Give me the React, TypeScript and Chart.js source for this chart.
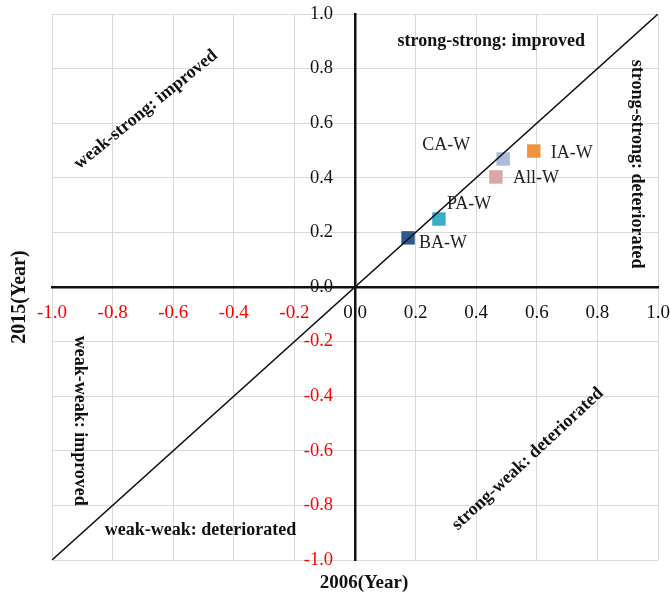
import React, { useEffect, useRef } from "react";
import { Chart, registerables } from "chart.js";

Chart.register(...registerables);

const pointNames = ["BA-W", "PA-W", "CA-W", "All-W", "IA-W"];
const xValues2006 = [0.175, 0.277, 0.489, 0.465, 0.59];
const yValues2015 = [0.18, 0.249, 0.469, 0.403, 0.498];
const pointColors = ["#2E5A94", "#3AAEC6", "#A9BCDD", "#D9A7A8", "#F0923F"];
// label placement relative to point (pixel offsets, text align)
const labelDx = [11, 8, -33, 17, 17];
const labelDy = [5, -15, -14, 1, 2];
const labelAlign: CanvasTextAlign[] = ["left", "left", "right", "left", "left"];

const diagonalX = [-1, 1];

const quadrantTexts = [
  "strong-strong: improved",
  "strong-strong: deteriorated",
  "weak-strong: improved",
  "weak-weak: improved",
  "weak-weak: deteriorated",
  "strong-weak: deteriorated",
];
const quadrantX = [0.45, 0.93, -0.69, -0.91, -0.51, 0.57];
const quadrantY = [0.9, 0.45, 0.65, -0.49, -0.89, -0.63];
const quadrantAngle = [0, 90, -39, 90, 0, -43];

const xTitle = "2006(Year)";
const yTitle = "2015(Year)";

const SERIF = "'Liberation Serif', 'Times New Roman', serif";
const tickColorOf = (v: number) => (v < 0 ? "#FF0000" : "#111");
const fmt = (v: number) => Number(v).toFixed(1);

const annotationPlugin = {
  id: "annotations",
  afterDatasetsDraw(chart: any) {
    const { ctx, scales, chartArea } = chart;
    const xs = scales.x;
    const ys = scales.y;
    ctx.save();
    // y tick labels (left of the vertical zero axis)
    ctx.font = `18.5px ${SERIF}`;
    ctx.textAlign = "right";
    ctx.textBaseline = "middle";
    const axisX = xs.getPixelForValue(0);
    ys.ticks.forEach((t: any) => {
      ctx.fillStyle = tickColorOf(t.value);
      ctx.fillText(fmt(t.value), axisX - 22, ys.getPixelForValue(t.value));
    });
    // quadrant texts
    ctx.fillStyle = "#111";
    ctx.font = `bold 18px ${SERIF}`;
    ctx.textAlign = "center";
    quadrantTexts.forEach((t, i) => {
      const px = xs.getPixelForValue(quadrantX[i]);
      const py = ys.getPixelForValue(quadrantY[i]);
      ctx.save();
      ctx.translate(px, py);
      ctx.rotate((quadrantAngle[i] * Math.PI) / 180);
      ctx.fillText(t, 0, 0);
      ctx.restore();
    });
    // point labels
    ctx.font = `18px ${SERIF}`;
    ctx.fillStyle = "#222";
    pointNames.forEach((n, i) => {
      const px = xs.getPixelForValue(xValues2006[i]);
      const py = ys.getPixelForValue(yValues2015[i]);
      ctx.textAlign = labelAlign[i];
      ctx.fillText(n, px + labelDx[i], py + labelDy[i]);
    });
    // axis titles
    ctx.fillStyle = "#111";
    ctx.textAlign = "center";
    ctx.font = `bold 19px ${SERIF}`;
    ctx.fillText(xTitle, axisX + 9, chartArea.bottom + 23);
    ctx.font = `bold 20px ${SERIF}`;
    ctx.save();
    ctx.translate(20, (chartArea.top + chartArea.bottom) / 2 + 10);
    ctx.rotate(-Math.PI / 2);
    ctx.fillText(yTitle, 0, 0);
    ctx.restore();
    ctx.restore();
  },
};

const zeroPadding = (scale: any) => {
  scale.paddingTop = 0;
  scale.paddingBottom = 0;
  scale.paddingLeft = 0;
  scale.paddingRight = 0;
};

export default function App() {
  const canvasRef = useRef<HTMLCanvasElement | null>(null);

  useEffect(() => {
    document.body.style.margin = "0";
    const canvas = canvasRef.current;
    if (!canvas) return;
    const chart = new Chart(canvas, {
      type: "scatter",
      data: {
        datasets: [
          {
            type: "line",
            data: diagonalX.map((v) => ({ x: v, y: v })),
            borderColor: "#111",
            borderWidth: 1.5,
            pointRadius: 0,
            fill: false,
            order: 0,
          } as any,
          {
            data: xValues2006.map((v, i) => ({ x: v, y: yValues2015[i] })),
            backgroundColor: pointColors,
            borderColor: pointColors,
            borderWidth: 0,
            pointStyle: "rect",
            pointRadius: 9.5,
            order: 1,
          },
        ],
      },
      options: {
        animation: false,
        responsive: false,
        maintainAspectRatio: false,
        layout: { padding: { left: 52, right: 12, top: 14, bottom: 37 } },
        plugins: { legend: { display: false }, tooltip: { enabled: false } },
        scales: {
          x: {
            type: "linear",
            min: -1,
            max: 1,
            position: { y: 0 } as any,
            afterFit: zeroPadding,
            grid: { color: "#D9D9D9", lineWidth: 1, drawTicks: false },
            border: { color: "#111", width: 2.5 },
            ticks: {
              stepSize: 0.2,
              padding: 15,
              color: (c: any) => tickColorOf(c.tick ? c.tick.value : 0),
              font: { family: SERIF, size: 19 },
              callback: (v: any) => fmt(v),
            },
          },
          y: {
            type: "linear",
            min: -1,
            max: 1,
            position: { x: 0 } as any,
            afterFit: zeroPadding,
            grid: { color: "#D9D9D9", lineWidth: 1, drawTicks: false },
            border: { color: "#111", width: 2.5 },
            ticks: {
              stepSize: 0.2,
              display: false,
              callback: (v: any) => fmt(v),
            },
          },
        },
      },
      plugins: [annotationPlugin],
    });
    return () => chart.destroy();
  }, []);

  return (
    <div style={{ width: 670, height: 597, background: "#fff" }}>
      <canvas ref={canvasRef} width={670} height={597} />
    </div>
  );
}
